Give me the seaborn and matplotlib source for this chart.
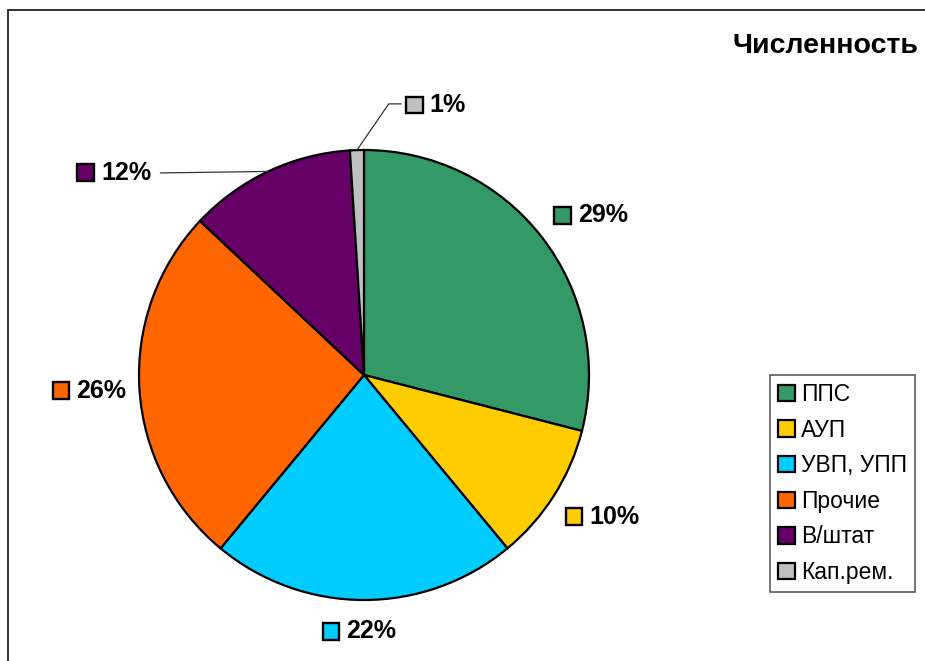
import numpy as np
import seaborn as sns
import matplotlib.pyplot as plt
from matplotlib.patches import Patch, Rectangle
from matplotlib.lines import Line2D
from matplotlib.offsetbox import AnnotationBbox, DrawingArea, TextArea, HPacker

# Data
categories = ["ППС", "АУП", "УВП, УПП", "Прочие", "В/штат", "Кап.рем."]
shares = [29, 10, 22, 26, 12, 1]
colors = ["#339966", "#FFCC00", "#00CCFF", "#FF6600", "#660066", "#C0C0C0"]
title = "Численность"

# label box centres, in pie-radius units from the centre
label_pos = [(1.01, 0.71), (1.06, -0.63), (-0.02, -1.14),
             (-1.22, -0.07), (-1.11, 0.90), (0.32, 1.20)]

sns.set_theme(style="white")
plt.rcParams["font.family"] = ["Liberation Sans", "DejaVu Sans"]
plt.rcParams["text.color"] = "black"

fig = plt.figure(figsize=(9.25, 6.61), dpi=100)
W, H = 925, 661
cx, cy, r = 364, 375, 225
ax = fig.add_axes([(cx - r) / W, (H - cy - r) / H, 2 * r / W, 2 * r / H])

wedges, _ = ax.pie(
    shares,
    colors=colors,
    startangle=90,
    counterclock=False,
    radius=1,
    wedgeprops={"edgecolor": "black", "linewidth": 1.6},
)
ax.set_xlim(-1, 1)
ax.set_ylim(-1, 1)
ax.set_aspect("equal")
ax.axis("off")

# percentage labels: coloured square + bold text
for i, (w, val) in enumerate(zip(wedges, shares)):
    da = DrawingArea(12, 12, 0, 0)
    da.add_artist(Rectangle((0, 0), 12, 12, facecolor=colors[i], edgecolor="black", linewidth=1.7))
    ta = TextArea(f"{val}%", textprops={"fontsize": 18, "fontweight": "bold", "color": "black"})
    box = HPacker(children=[da, ta], align="center", pad=0, sep=5)
    ab = AnnotationBbox(box, label_pos[i], xycoords="data", frameon=False,
                        box_alignment=(0.5, 0.5), annotation_clip=False)
    ax.add_artist(ab)

# leader lines for the small slices
mid = [np.deg2rad((w.theta1 + w.theta2) / 2) for w in wedges]
a = mid[4]
ax.plot([-0.905, np.cos(a)], [0.898, np.sin(a)], color="#333333", lw=0.9, clip_on=False)
a = mid[5]
ax.plot([0.165, 0.11, np.cos(a)], [1.205, 1.205, np.sin(a)], color="#333333", lw=0.9, clip_on=False)

# title
fig.text(732 / W, 1 - 46 / H, title, fontsize=20.5, fontweight="bold", color="black",
         ha="left", va="center")

# legend
handles = [Patch(facecolor=c, edgecolor="black", linewidth=1.6) for c in colors]
leg = fig.legend(
    handles, categories,
    loc="upper left",
    bbox_to_anchor=(770 / W, 1 - 375 / H),
    fontsize=16.5,
    frameon=True,
    fancybox=False,
    handlelength=0.72,
    handleheight=0.72,
    handletextpad=0.3,
    labelspacing=0.55,
    borderpad=0.35,
    borderaxespad=0,
)
leg.get_frame().set_edgecolor("#333333")
leg.get_frame().set_linewidth(1.2)
for t in leg.get_texts():
    t.set_color("black")

# chart-area border (left and top edges visible)
fig.add_artist(Line2D([8 / W, 8 / W], [0, 1 - 10 / H], color="#222222", lw=1.3))
fig.add_artist(Line2D([8 / W, 1], [1 - 10 / H, 1 - 10 / H], color="#222222", lw=1.3))

fig.savefig("out.png", dpi=100, facecolor="white")
